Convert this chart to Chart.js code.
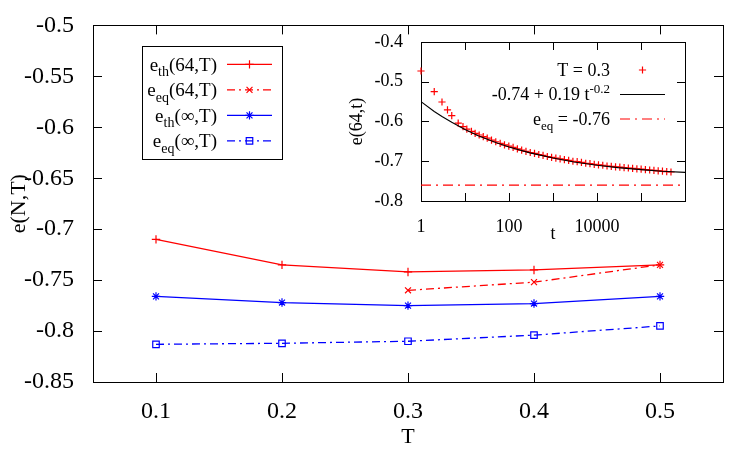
<!DOCTYPE html>
<html>
<head>
<meta charset="utf-8">
<script src="https://cdn.jsdelivr.net/npm/chart.js@4/dist/chart.umd.min.js"></script>
<style>
  html, body { margin: 0; padding: 0; background: #fff; }
  #wrap { position: relative; width: 750px; height: 450px; }
  #wrap canvas { position: absolute; left: 0; top: 0; }
</style>
</head>
<body>
<div id="wrap">
  <canvas id="mainChart" width="750" height="450"></canvas>
  <canvas id="insetChart" width="750" height="450"></canvas>
</div>
<script>
// main plot: energy vs temperature
var temps = [0.1, 0.2, 0.3, 0.4, 0.5];
var eTh64 = [-0.710, -0.735, -0.742, -0.740, -0.735];
var eqTemps = [0.3, 0.4, 0.5];
var eEq64 = [-0.760, -0.752, -0.735];
var eThInf = [-0.766, -0.772, -0.775, -0.773, -0.766];
var eEqInf = [-0.813, -0.812, -0.810, -0.804, -0.795];

var mainXTicks = [0.1, 0.2, 0.3, 0.4, 0.5];
var mainXLabels = ['0.1', '0.2', '0.3', '0.4', '0.5'];
var mainYTicks = [-0.85, -0.8, -0.75, -0.7, -0.65, -0.6, -0.55, -0.5];
var mainYLabels = ['-0.85', '-0.8', '-0.75', '-0.7', '-0.65', '-0.6', '-0.55', '-0.5'];

// inset: e(64,t) at T = 0.3
var times = [1, 2, 3, 4, 5, 7, 9, 11, 14, 17, 21, 26, 32, 40, 50, 63, 79,
  99, 124, 155, 194, 243, 304, 380, 475, 594, 743, 929, 1161, 1451, 1814, 2268,
  2835, 3544, 4430, 5537, 6921, 8652, 10815, 13519, 16898, 21123, 26404, 33005,
  41256, 51570, 64463, 80579, 100724, 125905, 157381, 196726, 245908, 307385,
  384231, 480289];
var eTime = [-0.473, -0.525, -0.551, -0.571, -0.585, -0.604, -0.613, -0.619, -0.625,
  -0.630, -0.634, -0.638, -0.642, -0.647, -0.651, -0.655, -0.659, -0.662, -0.665,
  -0.669, -0.672, -0.675, -0.678, -0.680, -0.683, -0.685, -0.688, -0.690, -0.692,
  -0.694, -0.696, -0.698, -0.700, -0.701, -0.703, -0.705, -0.706, -0.708, -0.709,
  -0.710, -0.712, -0.713, -0.714, -0.715, -0.716, -0.717, -0.718, -0.719, -0.720,
  -0.721, -0.722, -0.723, -0.724, -0.725, -0.726, -0.727];
var fitTimes = [1, 2, 3, 5, 10, 20, 50, 100, 300, 1000, 3000, 10000, 30000, 100000, 300000, 1000000];
var fitValues = [-0.550, -0.575, -0.5875, -0.602, -0.620, -0.636, -0.653, -0.664, -0.679,
  -0.692, -0.702, -0.710, -0.716, -0.721, -0.725, -0.728];
var eqTimes = [1, 1000000];
var eqLevel = [-0.76, -0.76];

var insetXTicks = [1, 10, 100, 1000, 10000, 100000, 1000000];
var insetXLabels = ['1', '', '100', '', '10000', '', ''];
var insetYTicks = [-0.8, -0.7, -0.6, -0.5, -0.4];
var insetYLabels = ['-0.8', '-0.7', '-0.6', '-0.5', '-0.4'];

var SERIF = "'Liberation Serif', 'Times New Roman', serif";
Chart.defaults.font.family = SERIF;
Chart.defaults.color = '#000';

function f(size) { return { family: SERIF, size: size }; }

function pts(xs, ys) {
  return xs.map(function (x, i) { return {x: x, y: ys[i]}; });
}

function richParts(label) {
  var parts = [], re = /([_^])\{([^}]*)\}/g, last = 0, m;
  while ((m = re.exec(label)) !== null) {
    if (m.index > last) parts.push({text: label.slice(last, m.index), shift: 0});
    parts.push({text: m[2], shift: m[1] === '_' ? 1 : -1});
    last = re.lastIndex;
  }
  if (last < label.length) parts.push({text: label.slice(last), shift: 0});
  return parts;
}

// right-aligned text with sub/superscripts
function drawRich(ctx, label, right, y, size) {
  var parts = richParts(label);
  var small = Math.round(size * 0.72);
  var widths = parts.map(function (p) {
    ctx.font = (p.shift ? small : size) + 'px ' + SERIF;
    return ctx.measureText(p.text).width;
  });
  var x = right - widths.reduce(function (a, b) { return a + b; }, 0);
  var base = y + size * 0.33;
  ctx.textAlign = 'left';
  ctx.textBaseline = 'alphabetic';
  parts.forEach(function (p, i) {
    ctx.font = (p.shift ? small : size) + 'px ' + SERIF;
    var dy = p.shift === 1 ? size * 0.3 : (p.shift === -1 ? -size * 0.42 : 0);
    ctx.fillText(p.text, x, base + dy);
    x += widths[i];
  });
}

function drawMarker(ctx, ds, x, y) {
  ctx.save();
  ctx.strokeStyle = ds.borderColor;
  ctx.fillStyle = 'rgba(0,0,0,0)';
  ctx.lineWidth = ds.pointBorderWidth;
  ctx.setLineDash([]);
  Chart.helpers.drawPoint(ctx, {
    pointStyle: ds.pointStyle, radius: ds.pointRadius, rotation: 0,
    borderWidth: ds.pointBorderWidth
  }, x, y);
  ctx.restore();
}

// border with inward ticks on all four sides (gnuplot look)
var framePlugin = {
  id: 'frame',
  beforeDatasetsDraw: function (chart, args, o) {
    var ctx = chart.ctx, a = chart.chartArea, sx = chart.scales.x, sy = chart.scales.y;
    var len = o.tickLength;
    ctx.save();
    ctx.strokeStyle = '#000';
    ctx.lineWidth = 1;
    ctx.strokeRect(Math.round(a.left) + 0.5, Math.round(a.top) + 0.5,
      Math.round(a.right - a.left), Math.round(a.bottom - a.top));
    ctx.beginPath();
    sx.ticks.forEach(function (t) {
      var px = Math.round(sx.getPixelForValue(t.value)) + 0.5;
      ctx.moveTo(px, a.bottom); ctx.lineTo(px, a.bottom - len);
      ctx.moveTo(px, a.top); ctx.lineTo(px, a.top + len);
    });
    sy.ticks.forEach(function (t) {
      var py = Math.round(sy.getPixelForValue(t.value)) + 0.5;
      ctx.moveTo(a.left, py); ctx.lineTo(a.left + len, py);
      ctx.moveTo(a.right, py); ctx.lineTo(a.right - len, py);
    });
    ctx.stroke();
    ctx.restore();
  }
};

var keyPlugin = {
  id: 'key',
  afterDraw: function (chart, args, o) {
    var ctx = chart.ctx, a = chart.chartArea;
    var x0 = a.left + o.left, y0 = a.top + o.top;
    ctx.save();
    if (o.box) {
      ctx.fillStyle = '#fff';
      ctx.fillRect(x0, y0, o.width, o.height);
      ctx.strokeStyle = '#000';
      ctx.lineWidth = 1;
      ctx.strokeRect(Math.round(x0) + 0.5, Math.round(y0) + 0.5, o.width, o.height);
    }
    chart.data.datasets.forEach(function (ds, i) {
      var y = y0 + o.firstRow + i * o.rowGap;
      ctx.fillStyle = '#000';
      drawRich(ctx, ds.label, x0 + o.textRight, y, o.fontSize);
      var xs = x0 + o.sampleFrom, xe = x0 + o.sampleTo;
      if (ds.showLine) {
        ctx.beginPath();
        ctx.setLineDash(ds.borderDash || []);
        ctx.strokeStyle = ds.borderColor;
        ctx.lineWidth = ds.borderWidth;
        ctx.moveTo(xs, y); ctx.lineTo(xe, y);
        ctx.stroke();
        ctx.setLineDash([]);
      }
      if (ds.pointRadius > 0) drawMarker(ctx, ds, (xs + xe) / 2, y);
    });
    ctx.restore();
  }
};

function series(label, xs, ys, color, style, dash) {
  return {
    label: label, data: pts(xs, ys), showLine: true,
    borderColor: color, backgroundColor: 'rgba(0,0,0,0)', borderWidth: 1.3,
    borderDash: dash, pointStyle: style, pointRadius: style === 'rect' ? 4.6 : 4.2,
    pointBorderWidth: 1.2, pointBackgroundColor: 'rgba(0,0,0,0)', clip: false
  };
}

var dashDot = [8, 4, 2, 4];

new Chart(document.getElementById('mainChart'), {
  type: 'scatter',
  data: {
    datasets: [
      series('e_{th}(64,T)', temps, eTh64, '#ff0000', 'cross', []),
      series('e_{eq}(64,T)', eqTemps, eEq64, '#ff0000', 'crossRot', dashDot),
      series('e_{th}(\u221e,T)', temps, eThInf, '#0000ff', 'star', []),
      series('e_{eq}(\u221e,T)', temps, eEqInf, '#0000ff', 'rect', dashDot)
    ]
  },
  options: {
    responsive: false,
    animation: false,
    layout: { padding: { left: 0, top: 20, right: 27, bottom: 0 } },
    elements: { line: { tension: 0 } },
    plugins: {
      legend: { display: false },
      tooltip: { enabled: false },
      frame: { tickLength: 9 },
      key: { box: true, left: 49, top: 21, width: 140, height: 113, firstRow: 18,
             rowGap: 25.5, textRight: 75, sampleFrom: 85, sampleTo: 130, fontSize: 19 }
    },
    scales: {
      x: {
        type: 'linear', min: 0.05, max: 0.55,
        grid: { display: false }, border: { display: false },
        afterBuildTicks: function (s) { s.ticks = mainXTicks.map(function (v) { return {value: v}; }); },
        afterFit: function (s) { s.height = 68; },
        ticks: { font: f(24), padding: 7, maxRotation: 0, autoSkip: false,
                 callback: function (v, i) { return mainXLabels[i]; } },
        title: { display: true, text: 'T', font: f(22), padding: { top: 0, bottom: 0 } }
      },
      y: {
        type: 'linear', min: -0.85, max: -0.5,
        grid: { display: false }, border: { display: false },
        afterBuildTicks: function (s) { s.ticks = mainYTicks.map(function (v) { return {value: v}; }); },
        afterFit: function (s) { s.width = 93; },
        ticks: { font: f(24), padding: 11, autoSkip: false,
                 callback: function (v, i) { return mainYLabels[i]; } },
        title: { display: true, text: 'e(N,T)', font: f(22), padding: { top: 6, bottom: 0 } }
      }
    }
  },
  plugins: [framePlugin, keyPlugin]
});

new Chart(document.getElementById('insetChart'), {
  type: 'scatter',
  data: {
    datasets: [
      { label: 'T = 0.3', data: pts(times, eTime), showLine: false, order: 2,
        borderColor: '#ff0000', backgroundColor: 'rgba(0,0,0,0)', pointStyle: 'cross',
        pointRadius: 3.6, pointBorderWidth: 1.2, clip: false },
      { label: '-0.74 + 0.19 t^{-0.2}', data: pts(fitTimes, fitValues), showLine: true, order: 0,
        borderColor: '#000000', backgroundColor: 'rgba(0,0,0,0)', borderWidth: 1.1,
        pointRadius: 0, borderDash: [] },
      { label: 'e_{eq} = -0.76', data: pts(eqTimes, eqLevel), showLine: true, order: 1,
        borderColor: '#ff0000', backgroundColor: 'rgba(0,0,0,0)', borderWidth: 1.1,
        pointRadius: 0, borderDash: [10, 5, 2, 5] }
    ]
  },
  options: {
    responsive: false,
    animation: false,
    layout: { padding: { left: 340, top: 42, right: 65, bottom: 199 } },
    elements: { line: { tension: 0 } },
    plugins: {
      legend: { display: false },
      tooltip: { enabled: false },
      frame: { tickLength: 8 },
      key: { box: false, left: 0, top: 0, firstRow: 28, rowGap: 24.5,
             textRight: 189, sampleFrom: 199, sampleTo: 244, fontSize: 18 }
    },
    scales: {
      x: {
        type: 'logarithmic', min: 1, max: 1000000,
        grid: { display: false }, border: { display: false },
        afterBuildTicks: function (s) { s.ticks = insetXTicks.map(function (v) { return {value: v}; }); },
        afterFit: function (s) { s.height = 50; },
        ticks: { font: f(18), padding: 7, maxRotation: 0, autoSkip: false,
                 callback: function (v, i) { return insetXLabels[i]; } },
        title: { display: true, text: 't', font: f(18), padding: { top: 0, bottom: 6 } }
      },
      y: {
        type: 'linear', min: -0.8, max: -0.4,
        grid: { display: false }, border: { display: false },
        afterBuildTicks: function (s) { s.ticks = insetYTicks.map(function (v) { return {value: v}; }); },
        afterFit: function (s) { s.width = 81; },
        ticks: { font: f(18), padding: 10, autoSkip: false,
                 callback: function (v, i) { return insetYLabels[i]; } },
        title: { display: true, text: 'e(64,t)', font: f(18), padding: { top: 6, bottom: 0 } }
      }
    }
  },
  plugins: [framePlugin, keyPlugin]
});
</script>
</body>
</html>
